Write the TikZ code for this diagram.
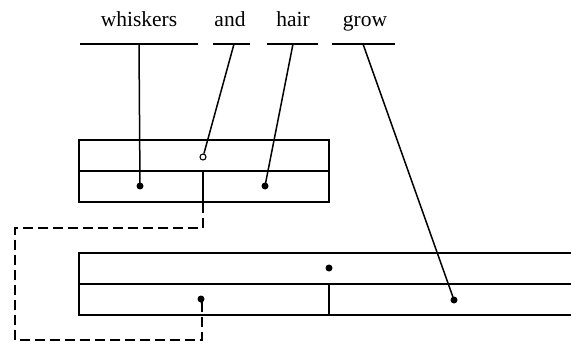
\documentclass[tikz,border=0pt]{standalone}
\usepackage{fontspec}
\setmainfont{Liberation Serif}
\begin{document}
\begin{tikzpicture}[x=1pt,y=-1pt,
  ln/.style={line width=1.5pt},
  word/.style={font=\fontsize{21.5}{24}\selectfont,inner sep=0pt,anchor=base},
  dotn/.style={circle,fill=black,inner sep=0pt,minimum size=7pt},
  odot/.style={circle,draw=black,fill=white,line width=1.1pt,inner sep=0pt,minimum size=6pt},
  dsh/.style={line width=1.8pt,dash pattern=on 10pt off 5pt}]
\useasboundingbox (0,0) rectangle (571,345);
% words
\node[word] (w1) at (139,27) {whiskers};
\node[word] (w2) at (230,27) {and};
\node[word] (w3) at (293,27) {hair};
\node[word] (w4) at (365,27) {grow};
% underlines
\coordinate (u1a) at (80,44); \coordinate (u1b) at (198,44); \coordinate (u1m) at (139,44);
\coordinate (u2a) at (213,44); \coordinate (u2b) at (250,44); \coordinate (u2m) at (234,44);
\coordinate (u3a) at (267,44); \coordinate (u3b) at (318,44); \coordinate (u3m) at (293,44);
\coordinate (u4a) at (332,44); \coordinate (u4b) at (395,44); \coordinate (u4m) at (363,44);
\draw[ln] (u1a) -- (u1b);
\draw[ln] (u2a) -- (u2b);
\draw[ln] (u3a) -- (u3b);
\draw[ln] (u4a) -- (u4b);
% upper box
\draw[ln] (79,140) rectangle (329,202);
\draw[ln] (79,171) -- (329,171);
\draw[ln] (203,171) -- (203,202);
% lower box
\draw[ln] (578,253) -- (79,253) -- (79,315) -- (578,315);
\draw[ln] (79,284) -- (578,284);
\draw[ln] (329,284) -- (329,315);
% dots
\node[dotn] (d1) at (140,186) {};
\node[odot] (d2) at (203,157) {};
\node[dotn] (d3) at (265,186) {};
\node[dotn] (d4) at (329,268) {};
\node[dotn] (d5) at (201,299) {};
\node[dotn] (d6) at (454,300) {};
% connectors
\draw[ln] (u1m) -- (d1.center);
\draw[ln] (u2m) -- (d2);
\draw[ln] (u3m) -- (d3.center);
\draw[ln] (u4m) -- (d6.center);
% dashed
\coordinate (s) at (203,203);
\draw[dsh] (s) -- (203,228) -- (15,228) -- (15,340) -- (202,340) -- (202,302);
\draw[ln] (202,306) -- (d5.center);
\end{tikzpicture}
\end{document}
